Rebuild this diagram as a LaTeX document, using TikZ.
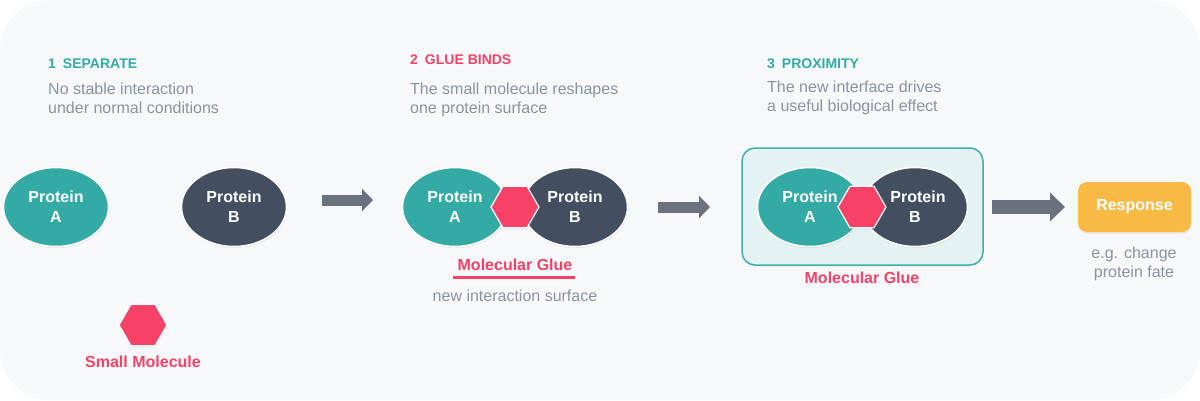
\documentclass[tikz,border=0pt]{standalone}
\usepackage{fontspec}
\setmainfont{Liberation Sans}
\usetikzlibrary{shapes.geometric,arrows.meta,shadows}
\definecolor{bgc}{HTML}{F7F8FA}
\definecolor{tealc}{HTML}{34AAA5}
\definecolor{darkc}{HTML}{434E60}
\definecolor{pinkc}{HTML}{F64267}
\definecolor{grayt}{HTML}{8A93A1}
\definecolor{arrowc}{HTML}{6B717D}
\definecolor{orangec}{HTML}{F8BA44}
\definecolor{boxfill}{HTML}{E4F2F2}
\definecolor{boxline}{HTML}{3DB0AB}
\tikzset{
  softshadow/.style={drop shadow={opacity=0.14,shadow xshift=0.6pt,shadow yshift=-1.6pt}},
  protein/.style={ellipse, draw=white, line width=1.5pt, minimum width=105pt, minimum height=79pt,
    inner sep=0pt, align=center, text=white, font=\fontsize{16}{20}\selectfont\bfseries, softshadow},
  protA/.style={protein, fill=tealc},
  protB/.style={protein, fill=darkc},
  hexa/.style={regular polygon, regular polygon sides=6, minimum size=48pt, inner sep=0pt,
    fill=pinkc, draw=white, line width=1.2pt, softshadow},
  heading/.style={anchor=base west, inner sep=0pt, font=\fontsize{14}{17}\selectfont\bfseries},
  desc/.style={anchor=base west, inner sep=0pt, text=grayt, font=\fontsize{16}{19}\selectfont},
  note/.style={anchor=base, inner sep=0pt, text=grayt, font=\fontsize{16}{19}\selectfont},
  pinklabel/.style={anchor=base, inner sep=0pt, text=pinkc, font=\fontsize{16}{19}\selectfont\bfseries},
  blockarrow/.style={draw=arrowc, line width=11pt, -{Triangle[length=11pt,width=22pt]}},
  bigarrow/.style={draw=arrowc, line width=14pt, -{Triangle[length=15pt,width=28pt]}},
}
\begin{document}
\begin{tikzpicture}[x=1pt,y=-1pt]
\useasboundingbox (0,0) rectangle (1200,400);
\fill[white] (0,0) rectangle (1200,400);
\fill[bgc, rounded corners=50pt] (0,0) rectangle (1200,400);

% Step 1
\node[heading, text=tealc] (h1) at (48,68) {1\hspace{7pt}SEPARATE};
\node[desc] (d1a) at (48,94) {No stable interaction};
\node[desc] (d1b) at (48,113) {under normal conditions};
\node[protA] (a1) at (56,207) {Protein\\A};
\node[protB] (b1) at (234,207) {Protein\\B};
\node[hexa] (m1) at (143,325) {};
\node[pinklabel] (m1l) at (143,367) {Small Molecule};

% Arrow 1
\coordinate (ar1s) at (322,200);
\coordinate (ar1e) at (373,200);
\draw[blockarrow] (ar1s) -- (ar1e);

% Step 2
\node[heading, text=pinkc] (h2) at (410,64) {2\hspace{7pt}GLUE BINDS};
\node[desc] (d2a) at (410,94) {The small molecule reshapes};
\node[desc] (d2b) at (410,113) {one protein surface};
\node[protB] (b2) at (575,207) {Protein\\B};
\node[protA] (a2) at (455,207) {Protein\\A};
\node[hexa] (m2) at (515,207) {};
\node[pinklabel] (g2) at (515,270) {Molecular Glue};
\draw[pinkc, line width=3pt] (453,277) -- (575,277);
\node[note] (n2) at (515,301) {new interaction surface};

% Arrow 2
\coordinate (ar2s) at (658,207);
\coordinate (ar2e) at (710,207);
\draw[blockarrow] (ar2s) -- (ar2e);

% Step 3
\node[heading, text=tealc] (h3) at (767,68) {3\hspace{7pt}PROXIMITY};
\node[desc] (d3a) at (767,92) {The new interface drives};
\node[desc] (d3b) at (767,111) {a useful biological effect};
\node[draw=boxline, fill=boxfill, line width=1.5pt, rounded corners=13pt,
  minimum width=241pt, minimum height=117pt, inner sep=0pt,
  drop shadow={opacity=0.08,shadow xshift=0.5pt,shadow yshift=-1.5pt}] (box3) at (862.5,206.5) {};
\node[protB] (b3) at (915,207) {\hspace{6pt}Protein\\B};
\node[protA] (a3) at (810,207) {Protein\hspace{4pt}\\A};
\node[hexa] (m3) at (862,207) {};
\node[pinklabel] (g3) at (862,283) {Molecular Glue};

% Arrow 3
\coordinate (ar3s) at (992,207);
\coordinate (ar3e) at (1065,207);
\draw[bigarrow] (ar3s) -- (ar3e);

% Response
\node[fill=orangec, rounded corners=9pt, minimum width=113pt, minimum height=50pt, inner sep=0pt,
  text=white, font=\fontsize{16}{19}\selectfont\bfseries, softshadow] (resp) at (1134.5,207) {Response};
\node[note] (r1) at (1134,258) {e.g. change};
\node[note] (r2) at (1134,277) {protein fate};
\end{tikzpicture}
\end{document}
